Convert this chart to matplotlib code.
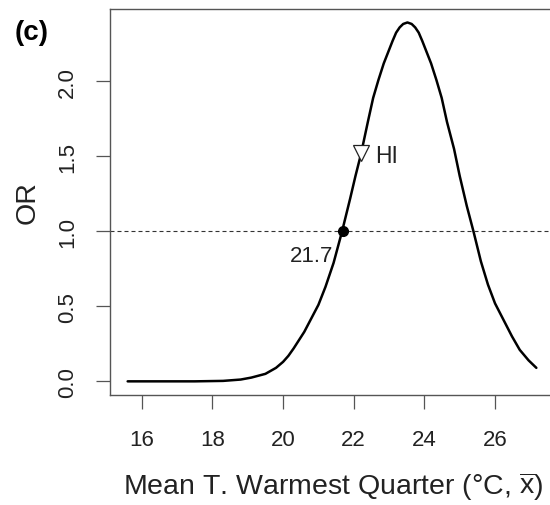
import matplotlib
matplotlib.use("Agg")
import matplotlib.pyplot as plt

plt.rcParams['font.family'] = ['Liberation Sans', 'DejaVu Sans']
plt.rcParams['mathtext.fontset'] = 'custom'
plt.rcParams['mathtext.rm'] = 'Liberation Sans'

# --- data ---
temp = [15.6, 16.5, 17.5, 18.3, 18.8, 19.1, 19.5, 19.8, 20.0, 20.15, 20.3,
        20.6, 20.8, 21.0, 21.2, 21.43, 21.67, 21.9, 22.05, 22.2, 22.4,
        22.55, 22.7, 22.85, 23.0, 23.1, 23.2, 23.3, 23.4, 23.52, 23.64,
        23.74, 23.84, 23.94, 24.04, 24.19, 24.34, 24.49, 24.64, 24.84,
        25.0, 25.2, 25.39, 25.6, 25.8, 26.0, 26.24, 26.48, 26.7, 26.95, 27.17]
odds = [0.0, 0.0, 0.0, 0.003, 0.012, 0.025, 0.05, 0.09, 0.13, 0.17, 0.22,
        0.33, 0.42, 0.51, 0.63, 0.79, 1.0, 1.22, 1.37, 1.51, 1.73,
        1.89, 2.01, 2.12, 2.21, 2.27, 2.325, 2.36, 2.383, 2.393, 2.383,
        2.36, 2.325, 2.27, 2.21, 2.12, 2.01, 1.89, 1.73, 1.55,
        1.37, 1.17, 1.0, 0.80, 0.645, 0.52, 0.41, 0.30, 0.21, 0.14, 0.09]

thresh_x = 21.7
thresh_y = 1.0
hi_x = 22.2
hi_y = 1.52
xticks = [16, 18, 20, 22, 24, 26]
yticks = [0.0, 0.5, 1.0, 1.5, 2.0]

fig = plt.figure(figsize=(5.5, 5.06), dpi=100)
ax = fig.add_axes([0.2, 0.218, 0.806, 0.762])

ax.plot(temp, odds, color='black', lw=1.8, solid_capstyle='round', solid_joinstyle='round')
ax.axhline(1.0, color='#333333', lw=0.8, linestyle=(0, (3.6, 2.7)))
ax.plot([thresh_x], [thresh_y], 'o', color='black', markersize=7)
ax.plot([hi_x], [hi_y], 'v', markerfacecolor='white', markeredgecolor='#222222',
        markersize=11, markeredgewidth=0.9)
# labels placed by baseline
ax.text(22.61, 1.46, 'HI', fontsize=16.5, va='baseline', ha='left', color='#222222')
ax.text(21.42, 0.804, '21.7', fontsize=16, va='baseline', ha='right', color='#222222')

ax.set_xlim(15.10, 27.65)
ax.set_ylim(-0.089, 2.482)
ax.set_xticks(xticks)
ax.set_xticklabels([str(t) for t in xticks])
ax.set_yticks(yticks)
ax.set_yticklabels(['%.1f' % t for t in yticks], rotation=90, va='center')

for s in ax.spines.values():
    s.set_color('#555555')
    s.set_linewidth(1.0)

ax.tick_params(axis='both', direction='out', length=10, width=0.9, colors='#555555',
               labelcolor='#222222', labelsize=16)
ax.tick_params(axis='y', pad=13)
ax.tick_params(axis='x', pad=15)

fig.text(333 / 550, 1 - 486.7 / 506, r'Mean T. Warmest Quarter (°C, $\overline{\mathrm{x}}$)',
         fontsize=20.5, ha='center', va='center', color='#222222')
fig.text(28 / 550, 1 - 203 / 506, 'OR', fontsize=20.5, rotation=90, ha='center',
         va='center', color='#222222')
fig.text(32 / 550, 1 - 33 / 506, '(c)', fontsize=20, fontweight='bold', ha='center',
         va='center', color='black')

fig.savefig('out.png', dpi=100)
